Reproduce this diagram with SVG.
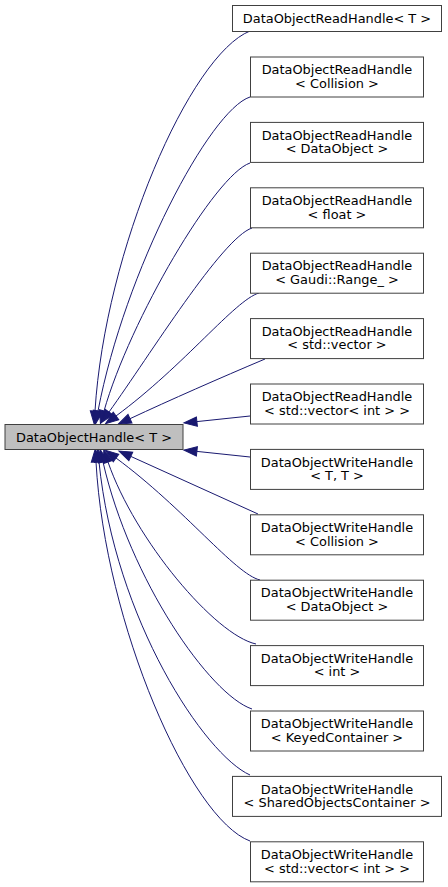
<svg xmlns="http://www.w3.org/2000/svg" width="448" height="887" viewBox="0 0 448 887">
<style>
.n rect{fill:#ffffff;stroke:#404040;stroke-width:1}
.n.cur rect{fill:#bfbfbf}
.n text{font-family:"DejaVu Sans","Liberation Sans",sans-serif;font-size:12.9px;fill:#000;text-anchor:middle}
.e path{fill:none;stroke:#191970;stroke-width:1;marker-end:url(#arr)}
</style>
<defs>
<marker id="arr" markerUnits="userSpaceOnUse" markerWidth="16" markerHeight="12" refX="1" refY="6" orient="auto" overflow="visible">
<path d="M1,1.3 L14,6 L1,10.7 Z" fill="#191970" stroke="#191970" stroke-width="1"/>
</marker>
</defs>
<g id="edges" class="e">
<path d="M250,31 C190,55 105,250 95,411"/>
<path d="M250,97 C210,110 125,270 98,411"/>
<path d="M250,163 C215,175 130,320 104,411"/>
<path d="M252,228 C222,238 150,355 109,412"/>
<path d="M259,293 C235,300 185,365 116,416"/>
<path d="M265,359 C220,378 170,400 130,418.7"/>
<path d="M250,416 L196.9,421.6"/>
<path d="M250,457 L196.9,451.4"/>
<path d="M258,514 L130.8,456.4"/>
<path d="M260,580 C235,574 185,509 116,458"/>
<path d="M256,644 C215,635 135,540 108,462"/>
<path d="M252,709 C210,695 130,580 103,462"/>
<path d="M250,775 C205,755 115,620 99,462"/>
<path d="M250,841 C190,819 105,624 96,462"/>
</g>
<g id="node_main" class="n cur"><rect x="5" y="424.5" width="178" height="25"/><text x="94" y="441.5">DataObjectHandle&lt; T &gt;</text></g>
<g id="node_r_T" class="n"><rect x="232.5" y="5.5" width="209" height="26"/><text x="337" y="22.5">DataObjectReadHandle&lt; T &gt;</text></g>
<g id="node_r_collision" class="n"><rect x="250.5" y="57" width="173" height="40"/><text x="337" y="74.2">DataObjectReadHandle</text><text x="337" y="87.7">&lt; Collision &gt;</text></g>
<g id="node_r_dataobject" class="n"><rect x="250.5" y="122.4" width="173" height="40"/><text x="337" y="139.6">DataObjectReadHandle</text><text x="337" y="153.1">&lt; DataObject &gt;</text></g>
<g id="node_r_float" class="n"><rect x="250.5" y="187.8" width="173" height="40"/><text x="337" y="205">DataObjectReadHandle</text><text x="337" y="218.5">&lt; float &gt;</text></g>
<g id="node_r_range" class="n"><rect x="250.5" y="253.2" width="173" height="40"/><text x="337" y="270.4">DataObjectReadHandle</text><text x="337" y="283.9">&lt; Gaudi::Range_ &gt;</text></g>
<g id="node_r_vector" class="n"><rect x="250.5" y="318.6" width="173" height="40"/><text x="337" y="335.8">DataObjectReadHandle</text><text x="337" y="349.3">&lt; std::vector &gt;</text></g>
<g id="node_r_vecint" class="n"><rect x="250.5" y="384" width="173" height="40"/><text x="337" y="401.2">DataObjectReadHandle</text><text x="337" y="414.7">&lt; std::vector&lt; int &gt; &gt;</text></g>
<g id="node_w_TT" class="n"><rect x="250.5" y="449.4" width="173" height="40"/><text x="337" y="466.6">DataObjectWriteHandle</text><text x="337" y="480.1">&lt; T, T &gt;</text></g>
<g id="node_w_collision" class="n"><rect x="250.5" y="514.8" width="173" height="40"/><text x="337" y="532">DataObjectWriteHandle</text><text x="337" y="545.5">&lt; Collision &gt;</text></g>
<g id="node_w_dataobject" class="n"><rect x="250.5" y="580.2" width="173" height="40"/><text x="337" y="597.4">DataObjectWriteHandle</text><text x="337" y="610.9">&lt; DataObject &gt;</text></g>
<g id="node_w_int" class="n"><rect x="250.5" y="645.6" width="173" height="40"/><text x="337" y="662.8">DataObjectWriteHandle</text><text x="337" y="676.3">&lt; int &gt;</text></g>
<g id="node_w_keyed" class="n"><rect x="250.5" y="711" width="173" height="40"/><text x="337" y="728.2">DataObjectWriteHandle</text><text x="337" y="741.7">&lt; KeyedContainer &gt;</text></g>
<g id="node_w_shared" class="n"><rect x="232.5" y="776.4" width="209" height="40"/><text x="337" y="793.6">DataObjectWriteHandle</text><text x="337" y="807.1">&lt; SharedObjectsContainer &gt;</text></g>
<g id="node_w_vecint" class="n"><rect x="250.5" y="841.8" width="173" height="40"/><text x="337" y="859">DataObjectWriteHandle</text><text x="337" y="872.5">&lt; std::vector&lt; int &gt; &gt;</text></g>
</svg>
